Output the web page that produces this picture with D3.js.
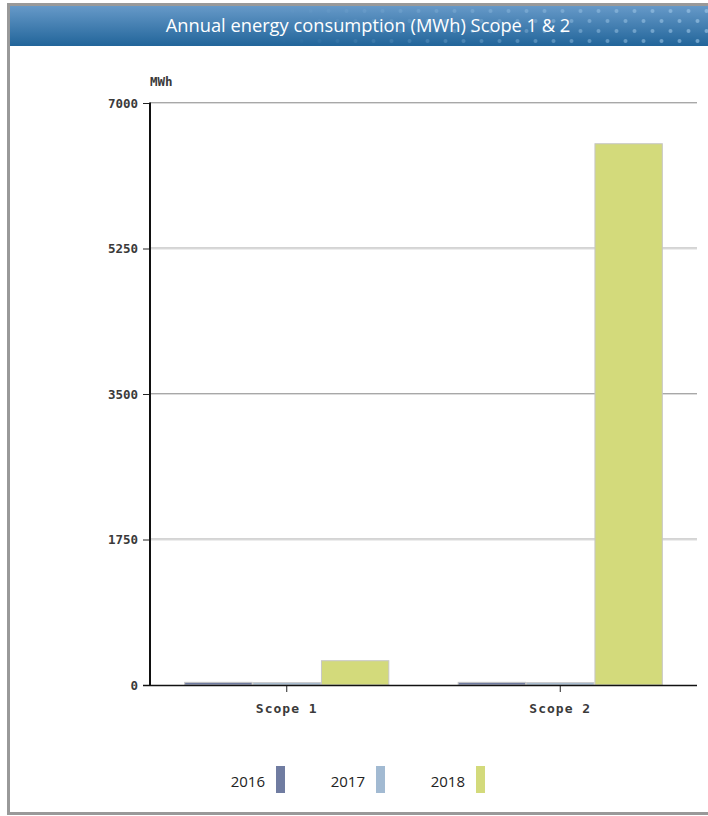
<!DOCTYPE html>
<html><head><meta charset="utf-8">
<script src="https://cdn.jsdelivr.net/npm/d3@7/dist/d3.min.js"></script>
<style>
html,body{margin:0;padding:0;background:#fff;}
svg{display:block;}
</style></head>
<body>
<svg id="chart" width="708" height="816"></svg>
<script>
const title = "Annual energy consumption (MWh) Scope 1 & 2";
const unitLabel = "MWh";
const categories = ["Scope 1", "Scope 2"];
const years = ["2016", "2017", "2018"];
const values2016 = [32, 32];
const values2017 = [28, 28];
const values2018 = [292, 6510];
const yTicks = [0, 1750, 3500, 5250, 7000];
const colors = ["#707ca1", "#a2bad2", "#d3da7b"];

(function(){
const series = [values2016, values2017, values2018];
const rows = categories.map((c, i) => ({cat: c, vals: years.map((y, j) => ({year: y, idx: j, v: series[j][i]}))}));

const svg = d3.select("#chart");
const defs = svg.append("defs");

// Title bar gradient
const g1 = defs.append("linearGradient").attr("id","tg").attr("x1",0).attr("y1",0).attr("x2",0).attr("y2",1);
g1.append("stop").attr("offset","0%").attr("stop-color","#6699c8");
g1.append("stop").attr("offset","100%").attr("stop-color","#22659a");
const pat = defs.append("pattern").attr("id","dots").attr("patternUnits","userSpaceOnUse")
  .attr("width",18).attr("height",20).attr("x",0).attr("y",6);
pat.append("circle").attr("cx",4.5).attr("cy",5).attr("r",2).attr("fill","#a4cbea");
pat.append("circle").attr("cx",13.5).attr("cy",15).attr("r",2).attr("fill","#a4cbea");
const fm = defs.append("linearGradient").attr("id","fm").attr("x1",0).attr("y1",0).attr("x2",1).attr("y2",0);
fm.append("stop").attr("offset","0%").attr("stop-color","#000");
fm.append("stop").attr("offset","38%").attr("stop-color","#000");
fm.append("stop").attr("offset","100%").attr("stop-color","#fff");
defs.append("mask").attr("id","mk").append("rect").attr("x",10).attr("y",6).attr("width",698).attr("height",40).attr("fill","url(#fm)");

// outer border
svg.append("rect").attr("x",8.5).attr("y",4.5).attr("width",710).attr("height",809)
  .attr("fill","none").attr("stroke","#999").attr("stroke-width",3);
svg.append("rect").attr("x",10).attr("y",6).attr("width",698).attr("height",40).attr("fill","url(#tg)");
svg.append("rect").attr("x",10).attr("y",6).attr("width",698).attr("height",40).attr("fill","url(#dots)").attr("mask","url(#mk)").attr("opacity",0.6);
svg.append("text").attr("x",368).attr("y",32).attr("text-anchor","middle")
  .attr("font-family","Open Sans").attr("font-size",18.3).attr("fill","#fff").text(title);

// scales
const pLeft = 150, pRight = 697, pTop = 103, pBottom = 685;
const y = d3.scaleLinear().domain([0, 7000]).range([pBottom, pTop]);
const x0 = d3.scaleBand().domain(categories).range([pLeft, pRight]).padding(0);
const x1 = d3.scaleBand().domain(years).range([0, x0.bandwidth()]).paddingInner(0).paddingOuter(0.5);

const tickFont = "DejaVu Sans Mono";

// grid
const grid = svg.append("g");
yTicks.filter(t => t > 0).forEach(t => {
  grid.append("line").attr("x1",pLeft).attr("x2",pRight).attr("y1",y(t)-0.5).attr("y2",y(t)-0.5).attr("stroke","#a8a8a8");
  grid.append("line").attr("x1",pLeft).attr("x2",pRight).attr("y1",y(t)+0.5).attr("y2",y(t)+0.5).attr("stroke","#dcdcdc");
});

// bars
const bars = svg.append("g");
rows.forEach(r => {
  bars.selectAll(null).data(r.vals).enter().append("rect")
    .attr("x", d => x0(r.cat) + x1(d.year) + 0.5)
    .attr("y", d => y(d.v))
    .attr("width", x1.bandwidth() - 1)
    .attr("height", d => pBottom - y(d.v))
    .attr("fill", d => colors[d.idx])
    .attr("stroke", "#c6c6c6").attr("stroke-width", 1);
});

// y axis
const yAxis = d3.axisLeft(y).tickValues(yTicks).tickSize(7).tickPadding(5).tickFormat(d3.format("d"));
const ya = svg.append("g").attr("transform",`translate(${pLeft},0)`).call(yAxis);
ya.select(".domain").remove();
ya.selectAll(".tick line").attr("stroke","#222");
ya.selectAll("text").attr("font-family",tickFont).attr("font-size",12.5).attr("font-weight","bold").attr("fill","#3a3a3a");
svg.append("line").attr("x1",pLeft).attr("x2",pLeft).attr("y1",pTop-0.5).attr("y2",pBottom).attr("stroke","#111").attr("stroke-width",2);

// x axis
const xAxis = d3.axisBottom(x0).tickSize(7).tickPadding(12);
const xa = svg.append("g").attr("transform",`translate(0,${pBottom})`).call(xAxis);
xa.select(".domain").remove();
xa.selectAll(".tick line").attr("stroke","#222");
xa.selectAll("text").attr("font-family",tickFont).attr("font-size",13).attr("font-weight","bold")
  .attr("letter-spacing","1").attr("fill","#3a3a3a");
svg.append("line").attr("x1",pLeft-7).attr("x2",pRight).attr("y1",pBottom+0.5).attr("y2",pBottom+0.5).attr("stroke","#111").attr("stroke-width",1.5);

// unit label
svg.append("text").attr("x",150).attr("y",86).attr("font-family",tickFont).attr("font-size",12.5).attr("font-weight","bold").attr("fill","#3a3a3a").text(unitLabel);

// legend
const lg = svg.append("g");
years.forEach((yr, i) => {
  const gx = 225 + i * 100;
  lg.append("text").attr("x", gx + 40).attr("y", 787).attr("text-anchor","end")
    .attr("font-family","Open Sans").attr("font-size",15).attr("fill","#222").text(yr);
  lg.append("rect").attr("x", gx + 51).attr("y", 766).attr("width", 9).attr("height", 27).attr("fill", colors[i]);
});
})();
</script>
</body></html>
